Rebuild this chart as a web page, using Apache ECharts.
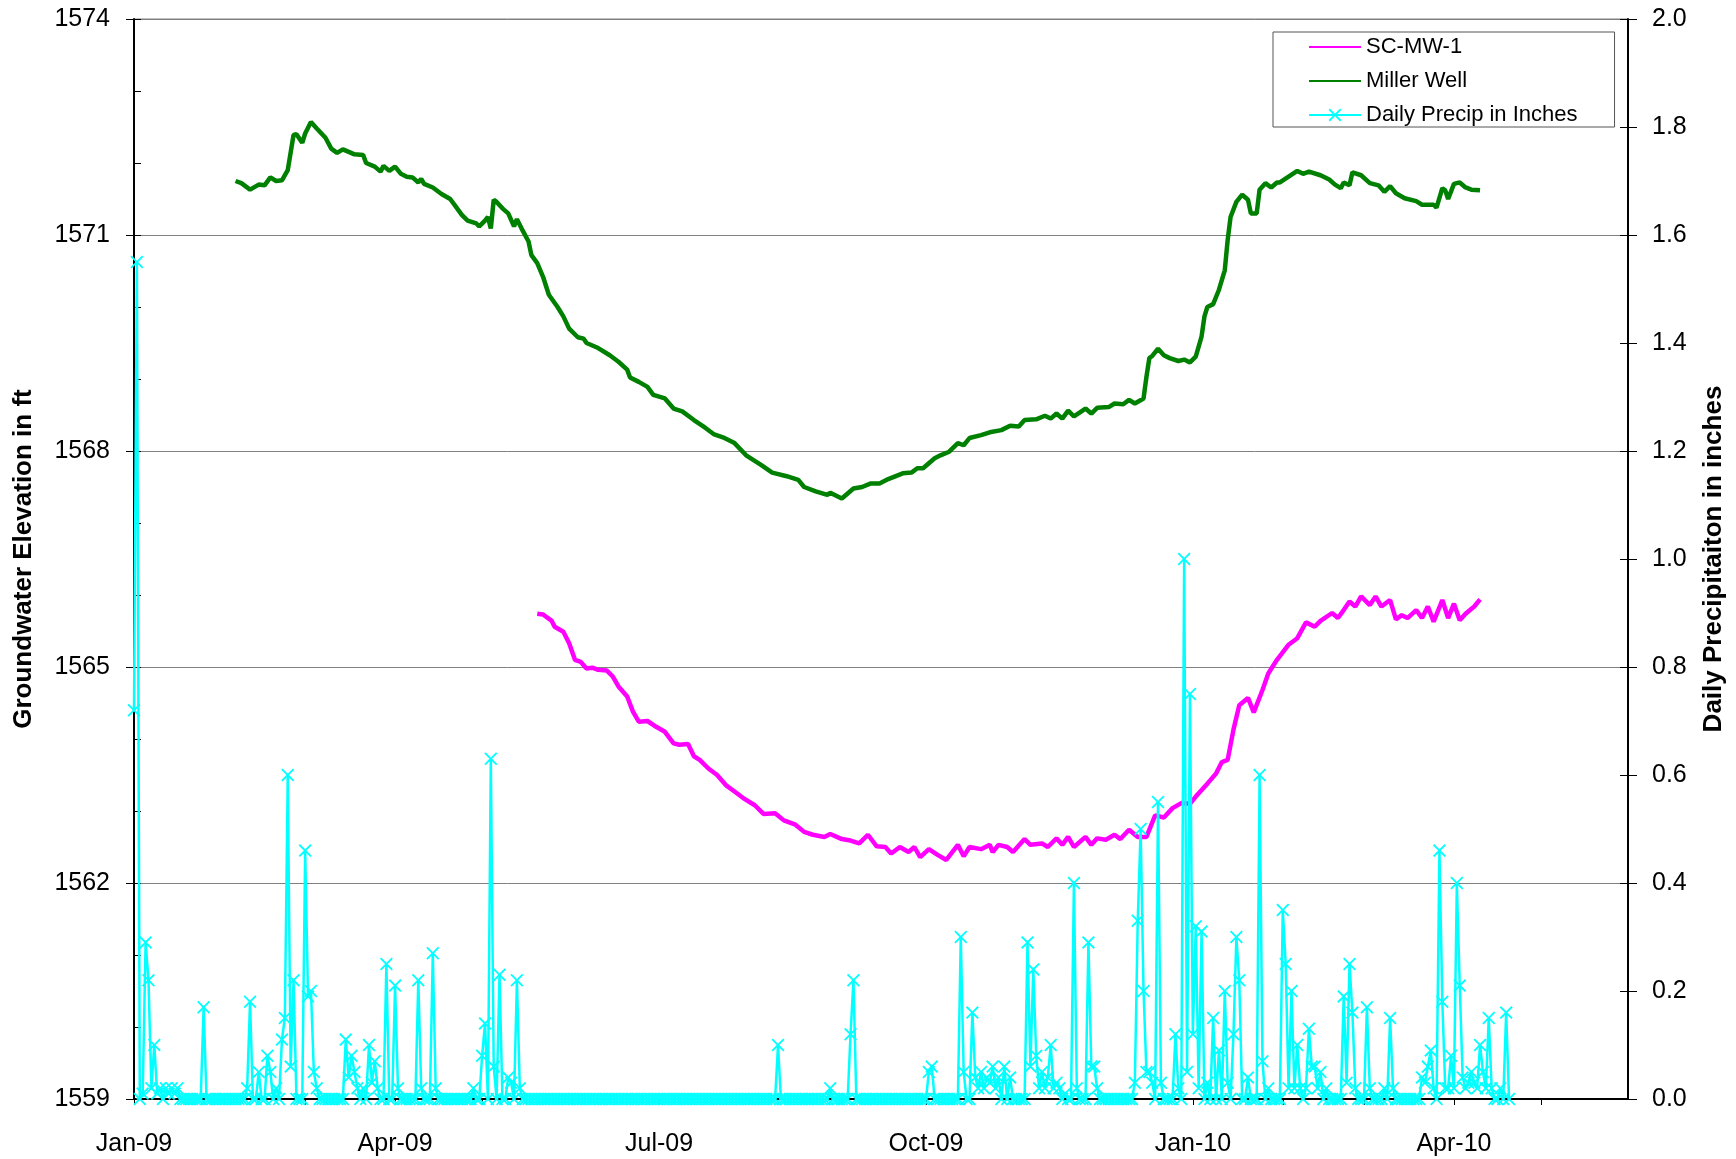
<!DOCTYPE html>
<html>
<head>
<meta charset="utf-8">
<script src="https://cdn.jsdelivr.net/npm/echarts@6/dist/echarts.min.js"></script>
<style>
  html, body { margin: 0; padding: 0; background: #fff; }
  #chart { width: 1736px; height: 1159px; }
</style>
</head>
<body>
<div id="chart"></div>
<script>
// groundwater levels vs daily precipitation
var chart = echarts.init(document.getElementById('chart'));

var FONT = 'Liberation Sans, Arial, sans-serif';

// x axis labels (quarters)
var quarterTicks = ['2009-01-01', '2009-04-01', '2009-07-01', '2009-10-01', '2010-01-01', '2010-04-01'];
var quarterLabels = ['Jan-09', 'Apr-09', 'Jul-09', 'Oct-09', 'Jan-10', 'Apr-10'];

// SC-MW-1 (ft)
var scMw1 = [
    ['2009-05-20', 1565.74], ['2009-05-22', 1565.73], ['2009-05-25', 1565.64], ['2009-05-26', 1565.56],
    ['2009-05-29', 1565.49], ['2009-05-31', 1565.33], ['2009-06-02', 1565.10], ['2009-06-04', 1565.07],
    ['2009-06-06', 1564.98], ['2009-06-08', 1564.99], ['2009-06-10', 1564.96], ['2009-06-13', 1564.95],
    ['2009-06-15', 1564.87], ['2009-06-17', 1564.73], ['2009-06-20', 1564.59], ['2009-06-22', 1564.38],
    ['2009-06-24', 1564.24], ['2009-06-27', 1564.25], ['2009-06-30', 1564.17], ['2009-07-03', 1564.10],
    ['2009-07-06', 1563.94], ['2009-07-08', 1563.92], ['2009-07-11', 1563.93], ['2009-07-13', 1563.76],
    ['2009-07-15', 1563.71], ['2009-07-18', 1563.59], ['2009-07-21', 1563.50], ['2009-07-24', 1563.36],
    ['2009-07-27', 1563.27], ['2009-07-30', 1563.18], ['2009-08-03', 1563.08], ['2009-08-06', 1562.96],
    ['2009-08-10', 1562.97], ['2009-08-13', 1562.87], ['2009-08-17', 1562.81], ['2009-08-20', 1562.71],
    ['2009-08-23', 1562.67], ['2009-08-27', 1562.64], ['2009-08-29', 1562.68], ['2009-09-02', 1562.61],
    ['2009-09-05', 1562.59], ['2009-09-08', 1562.55], ['2009-09-11', 1562.67], ['2009-09-14', 1562.51],
    ['2009-09-17', 1562.50], ['2009-09-19', 1562.41], ['2009-09-22', 1562.50], ['2009-09-25', 1562.43],
    ['2009-09-27', 1562.50], ['2009-09-29', 1562.36], ['2009-10-02', 1562.47], ['2009-10-05', 1562.39],
    ['2009-10-08', 1562.32], ['2009-10-12', 1562.53], ['2009-10-14', 1562.37], ['2009-10-16', 1562.50],
    ['2009-10-20', 1562.47], ['2009-10-23', 1562.53], ['2009-10-24', 1562.43], ['2009-10-26', 1562.53],
    ['2009-10-29', 1562.50], ['2009-10-31', 1562.43], ['2009-11-04', 1562.61], ['2009-11-06', 1562.53],
    ['2009-11-10', 1562.55], ['2009-11-12', 1562.50], ['2009-11-15', 1562.62], ['2009-11-17', 1562.53],
    ['2009-11-19', 1562.64], ['2009-11-21', 1562.50], ['2009-11-25', 1562.64], ['2009-11-27', 1562.53],
    ['2009-11-29', 1562.62], ['2009-12-02', 1562.60], ['2009-12-05', 1562.67], ['2009-12-07', 1562.61],
    ['2009-12-10', 1562.74], ['2009-12-13', 1562.64], ['2009-12-16', 1562.64], ['2009-12-19', 1562.94],
    ['2009-12-22', 1562.91], ['2009-12-25', 1563.04], ['2009-12-28', 1563.11], ['2009-12-31', 1563.10],
    ['2010-01-02', 1563.20], ['2010-01-06', 1563.38], ['2010-01-09', 1563.52], ['2010-01-11', 1563.68],
    ['2010-01-13', 1563.71], ['2010-01-15', 1564.13], ['2010-01-17', 1564.47], ['2010-01-20', 1564.57],
    ['2010-01-22', 1564.37], ['2010-01-25', 1564.68], ['2010-01-27', 1564.91], ['2010-01-30', 1565.10],
    ['2010-02-03', 1565.31], ['2010-02-06', 1565.40], ['2010-02-09', 1565.62], ['2010-02-12', 1565.56],
    ['2010-02-14', 1565.64], ['2010-02-18', 1565.75], ['2010-02-20', 1565.68], ['2010-02-22', 1565.79],
    ['2010-02-24', 1565.91], ['2010-02-26', 1565.84], ['2010-02-28', 1565.98], ['2010-03-03', 1565.86],
    ['2010-03-05', 1565.98], ['2010-03-07', 1565.84], ['2010-03-10', 1565.93], ['2010-03-12', 1565.66],
    ['2010-03-14', 1565.72], ['2010-03-16', 1565.68], ['2010-03-19', 1565.79], ['2010-03-21', 1565.68],
    ['2010-03-23', 1565.84], ['2010-03-25', 1565.63], ['2010-03-28', 1565.93], ['2010-03-30', 1565.68],
    ['2010-04-01', 1565.88], ['2010-04-03', 1565.65], ['2010-04-05', 1565.74], ['2010-04-08', 1565.84],
    ['2010-04-10', 1565.94]
];

// Miller Well (ft)
var millerWell = [
    ['2009-02-05', 1571.75], ['2009-02-07', 1571.72], ['2009-02-10', 1571.63], ['2009-02-13', 1571.70],
    ['2009-02-15', 1571.69], ['2009-02-17', 1571.80], ['2009-02-19', 1571.75], ['2009-02-21', 1571.76],
    ['2009-02-23', 1571.90], ['2009-02-25', 1572.39], ['2009-02-26', 1572.40], ['2009-02-28', 1572.28],
    ['2009-03-01', 1572.41], ['2009-03-03', 1572.57], ['2009-03-05', 1572.48], ['2009-03-08', 1572.35],
    ['2009-03-10', 1572.20], ['2009-03-12', 1572.14], ['2009-03-14', 1572.19], ['2009-03-18', 1572.12],
    ['2009-03-21', 1572.11], ['2009-03-22', 1572.00], ['2009-03-25', 1571.95], ['2009-03-27', 1571.88],
    ['2009-03-28', 1571.96], ['2009-03-30', 1571.89], ['2009-04-01', 1571.95], ['2009-04-03', 1571.85],
    ['2009-04-05', 1571.81], ['2009-04-07', 1571.80], ['2009-04-09', 1571.73], ['2009-04-10', 1571.78],
    ['2009-04-11', 1571.71], ['2009-04-14', 1571.66], ['2009-04-17', 1571.57], ['2009-04-20', 1571.50],
    ['2009-04-22', 1571.39], ['2009-04-24', 1571.28], ['2009-04-26', 1571.20], ['2009-04-29', 1571.16],
    ['2009-04-30', 1571.12], ['2009-05-02', 1571.20], ['2009-05-03', 1571.25], ['2009-05-04', 1571.09],
    ['2009-05-05', 1571.49], ['2009-05-06', 1571.46], ['2009-05-08', 1571.37], ['2009-05-10', 1571.30],
    ['2009-05-12', 1571.12], ['2009-05-13', 1571.22], ['2009-05-15', 1571.06], ['2009-05-17', 1570.91],
    ['2009-05-18', 1570.72], ['2009-05-20', 1570.61], ['2009-05-22', 1570.42], ['2009-05-24', 1570.17],
    ['2009-05-27', 1570.00], ['2009-05-29', 1569.87], ['2009-05-31', 1569.70], ['2009-06-03', 1569.58],
    ['2009-06-05', 1569.56], ['2009-06-06', 1569.50], ['2009-06-10', 1569.43], ['2009-06-14', 1569.33],
    ['2009-06-17', 1569.24], ['2009-06-20', 1569.13], ['2009-06-21', 1569.02], ['2009-06-24', 1568.96],
    ['2009-06-27', 1568.89], ['2009-06-29', 1568.78], ['2009-07-03', 1568.73], ['2009-07-06', 1568.59],
    ['2009-07-09', 1568.55], ['2009-07-13', 1568.43], ['2009-07-17', 1568.32], ['2009-07-20', 1568.23],
    ['2009-07-23', 1568.19], ['2009-07-27', 1568.11], ['2009-07-31', 1567.94], ['2009-08-05', 1567.81],
    ['2009-08-09', 1567.70], ['2009-08-14', 1567.65], ['2009-08-18', 1567.60], ['2009-08-20', 1567.50],
    ['2009-08-24', 1567.44], ['2009-08-28', 1567.39], ['2009-08-29', 1567.42], ['2009-09-02', 1567.34],
    ['2009-09-06', 1567.48], ['2009-09-09', 1567.50], ['2009-09-12', 1567.55], ['2009-09-15', 1567.55],
    ['2009-09-18', 1567.61], ['2009-09-23', 1567.69], ['2009-09-26', 1567.70], ['2009-09-28', 1567.76],
    ['2009-09-30', 1567.76], ['2009-10-04', 1567.90], ['2009-10-06', 1567.94], ['2009-10-09', 1567.99],
    ['2009-10-12', 1568.11], ['2009-10-14', 1568.08], ['2009-10-16', 1568.18], ['2009-10-20', 1568.22],
    ['2009-10-23', 1568.26], ['2009-10-27', 1568.29], ['2009-10-30', 1568.35], ['2009-11-02', 1568.34],
    ['2009-11-04', 1568.43], ['2009-11-08', 1568.44], ['2009-11-11', 1568.49], ['2009-11-13', 1568.45],
    ['2009-11-15', 1568.52], ['2009-11-17', 1568.45], ['2009-11-19', 1568.56], ['2009-11-21', 1568.48],
    ['2009-11-25', 1568.59], ['2009-11-27', 1568.52], ['2009-11-29', 1568.60], ['2009-12-03', 1568.61],
    ['2009-12-05', 1568.66], ['2009-12-08', 1568.65], ['2009-12-10', 1568.71], ['2009-12-12', 1568.66],
    ['2009-12-15', 1568.73], ['2009-12-16', 1569.03], ['2009-12-17', 1569.29], ['2009-12-18', 1569.32],
    ['2009-12-20', 1569.42], ['2009-12-22', 1569.33], ['2009-12-24', 1569.29], ['2009-12-27', 1569.25],
    ['2009-12-29', 1569.27], ['2009-12-31', 1569.23], ['2010-01-02', 1569.31], ['2010-01-04', 1569.59],
    ['2010-01-05', 1569.87], ['2010-01-06', 1570.00], ['2010-01-08', 1570.04], ['2010-01-10', 1570.24],
    ['2010-01-12', 1570.51], ['2010-01-13', 1570.93], ['2010-01-14', 1571.25], ['2010-01-16', 1571.46],
    ['2010-01-18', 1571.56], ['2010-01-20', 1571.49], ['2010-01-21', 1571.30], ['2010-01-23', 1571.30],
    ['2010-01-24', 1571.63], ['2010-01-26', 1571.72], ['2010-01-28', 1571.66], ['2010-01-30', 1571.73],
    ['2010-01-31', 1571.73], ['2010-02-03', 1571.81], ['2010-02-06', 1571.89], ['2010-02-08', 1571.85],
    ['2010-02-10', 1571.88], ['2010-02-14', 1571.83], ['2010-02-17', 1571.77], ['2010-02-19', 1571.70],
    ['2010-02-21', 1571.65], ['2010-02-22', 1571.73], ['2010-02-24', 1571.69], ['2010-02-25', 1571.87],
    ['2010-02-28', 1571.83], ['2010-03-03', 1571.72], ['2010-03-06', 1571.69], ['2010-03-08', 1571.60],
    ['2010-03-10', 1571.68], ['2010-03-12', 1571.58], ['2010-03-15', 1571.51], ['2010-03-19', 1571.47],
    ['2010-03-21', 1571.42], ['2010-03-25', 1571.42], ['2010-03-26', 1571.38], ['2010-03-28', 1571.65],
    ['2010-03-29', 1571.62], ['2010-03-30', 1571.50], ['2010-04-01', 1571.71], ['2010-04-03', 1571.73],
    ['2010-04-05', 1571.66], ['2010-04-07', 1571.63], ['2010-04-10', 1571.62]
];

// daily precip (inches), one row per month, first day 2009-01-01
var precipStart = '2009-01-01';
var precipDaily = [
    // 2009 Jan
    0.72, 1.55, 0, 0.01, 0.29, 0.22, 0.02, 0.10, 0.01, 0.02, 0, 0.02, 0.01, 0.02, 0.01, 0.02, 0, 0, 0, 0, 0, 0, 0, 0, 0.17, 0, 0, 0, 0, 0, 0,
    // Feb
    0, 0, 0, 0, 0, 0, 0, 0, 0.02, 0.18, 0, 0, 0.05, 0, 0, 0.08, 0.05, 0, 0.02, 0, 0.11, 0.15, 0.60, 0.06, 0.22, 0, 0, 0,
    // Mar
    0.46, 0.19, 0.20, 0.05, 0.02, 0, 0, 0, 0, 0, 0, 0, 0, 0, 0.11, 0.04, 0.08, 0.05, 0.02, 0, 0.02, 0, 0.10, 0.03, 0.07, 0.02, 0, 0, 0.25, 0, 0,
    // Apr
    0.21, 0.02, 0, 0, 0, 0, 0, 0, 0.22, 0.02, 0, 0, 0, 0.27, 0.02, 0, 0, 0, 0, 0, 0, 0, 0, 0, 0, 0, 0, 0.02, 0, 0,
    // May
    0.08, 0.14, 0, 0.63, 0.06, 0, 0.23, 0, 0, 0.04, 0.03, 0, 0.22, 0.02, 0, 0, 0, 0, 0, 0, 0, 0, 0, 0, 0, 0, 0, 0, 0, 0, 0,
    // Jun
    0, 0, 0, 0, 0, 0, 0, 0, 0, 0, 0, 0, 0, 0, 0, 0, 0, 0, 0, 0, 0, 0, 0, 0, 0, 0, 0, 0, 0, 0,
    // Jul
    0, 0, 0, 0, 0, 0, 0, 0, 0, 0, 0, 0, 0, 0, 0, 0, 0, 0, 0, 0, 0, 0, 0, 0, 0, 0, 0, 0, 0, 0, 0,
    // Aug
    0, 0, 0, 0, 0, 0, 0, 0, 0, 0, 0.10, 0, 0, 0, 0, 0, 0, 0, 0, 0, 0, 0, 0, 0, 0, 0, 0, 0, 0.02, 0, 0,
    // Sep
    0, 0, 0, 0, 0.12, 0.22, 0, 0, 0, 0, 0, 0, 0, 0, 0, 0, 0, 0, 0, 0, 0, 0, 0, 0, 0, 0, 0, 0, 0, 0,
    // Oct
    0, 0.05, 0.06, 0, 0, 0, 0, 0, 0, 0, 0, 0, 0.30, 0.05, 0, 0, 0.16, 0.04, 0.02, 0.05, 0.02, 0.04, 0.03, 0.06, 0.02, 0.04, 0, 0.06, 0, 0.04, 0,
    // Nov
    0, 0, 0, 0, 0.29, 0.06, 0.24, 0.08, 0.02, 0.05, 0.02, 0.04, 0.10, 0.02, 0.03, 0.02, 0, 0.01, 0, 0, 0.40, 0.02, 0, 0, 0, 0.29, 0.06, 0.06, 0.02, 0,
    // Dec
    0, 0, 0, 0, 0, 0, 0, 0, 0, 0, 0, 0.03, 0.33, 0.50, 0.20, 0.05, 0.05, 0.03, 0, 0.55, 0.03, 0, 0, 0, 0, 0.12, 0.02, 0, 1.00, 0.05, 0.75,
    // 2010 Jan
    0.12, 0.32, 0.02, 0.31, 0, 0.03, 0, 0.15, 0, 0.09, 0, 0.20, 0.03, 0, 0.12, 0.30, 0.22, 0, 0, 0.04, 0, 0, 0, 0.60, 0.07, 0, 0.02, 0, 0, 0, 0,
    // Feb
    0.35, 0.25, 0.02, 0.20, 0.02, 0.10, 0.02, 0, 0.02, 0.13, 0.06, 0.06, 0.02, 0.05, 0, 0.02, 0, 0, 0, 0, 0, 0.19, 0.03, 0.25, 0.16, 0.02, 0, 0,
    // Mar
    0, 0.17, 0.02, 0, 0, 0, 0, 0.02, 0, 0.15, 0.02, 0, 0, 0, 0, 0, 0, 0, 0, 0, 0.04, 0.03, 0.06, 0.09, 0.02, 0, 0.46, 0.18, 0.02, 0.02, 0.08,
    // Apr (to the 20th)
    0.02, 0.40, 0.21, 0.04, 0.02, 0.03, 0.05, 0.03, 0.02, 0.10, 0.05, 0.02, 0.15, 0.02, 0, 0, 0.02, 0, 0.16, 0
];

function toTime(s) {
    var p = s.split('-');
    return new Date(+p[0], +p[1] - 1, +p[2]).getTime();
}

var quarterTimes = quarterTicks.map(toTime);

// month ticks along the date axis
var monthTicks = [];
for (var m = 0; m <= 16; m++) {
    monthTicks.push(new Date(2009, m, 1).getTime());
}

var p0 = precipStart.split('-');
var precipData = precipDaily.map(function (v, i) {
    return [new Date(+p0[0], +p0[1] - 1, +p0[2] + i).getTime(), v];
});

var crossMark = 'path://M0,1 L1,0 L5,4 L9,0 L10,1 L6,5 L10,9 L9,10 L5,6 L1,10 L0,9 L4,5 Z';

chart.setOption({
    animation: false,
    backgroundColor: '#fff',
    textStyle: { fontFamily: FONT, color: '#000' },
    grid: {
        left: 134, right: 108, top: 19, bottom: 60,
        containLabel: false,
        outerBoundsMode: 'none',
        show: true, borderColor: '#808080', borderWidth: 1
    },
    legend: {
        orient: 'vertical',
        left: 1273, top: 32,
        padding: [4, 37, 1, 35],
        itemWidth: 52, itemHeight: 16, itemGap: 12,
        backgroundColor: '#fff',
        borderColor: '#555', borderWidth: 1,
        textStyle: { fontFamily: FONT, fontSize: 22, color: '#000', lineHeight: 20 },
        data: [
            { name: 'SC-MW-1', itemStyle: { opacity: 0 } },
            { name: 'Miller Well', itemStyle: { opacity: 0 } },
            { name: 'Daily Precip in Inches' }
        ]
    },
    xAxis: [{
        // date axis, values are timestamps
        type: 'value',
        min: toTime('2009-01-01'),
        max: toTime('2010-05-31'),
        axisLine: { onZero: false, lineStyle: { color: '#000', width: 2 } },
        axisTick: { show: true, customValues: monthTicks, length: 6, lineStyle: { color: '#000' } },
        splitLine: { show: false },
        axisLabel: {
            customValues: quarterTimes,
            margin: 33,
            fontSize: 25,
            fontFamily: FONT,
            color: '#000',
            formatter: function (val) {
                var k = quarterTimes.indexOf(val);
                return k >= 0 ? quarterLabels[k] : '';
            }
        }
    }],
    yAxis: [{
        type: 'value',
        position: 'left',
        min: 1559, max: 1574, interval: 3,
        name: 'Groundwater Elevation in ft',
        nameLocation: 'middle',
        nameGap: 97,
        nameRotate: 90,
        nameTextStyle: { fontFamily: FONT, fontSize: 26, fontWeight: 'bold', color: '#000' },
        axisLine: { show: true, lineStyle: { color: '#000', width: 2 } },
        axisTick: { show: true, length: 8, lineStyle: { color: '#000' } },
        splitLine: { show: true, lineStyle: { color: '#808080', width: 1 } },
        axisLabel: {
            fontSize: 25, fontFamily: FONT, color: '#000', margin: 24,
            formatter: function (v) { return String(v); }
        }
    }, {
        type: 'value',
        position: 'right',
        min: 0, max: 2, interval: 0.2,
        name: 'Daily Precipitaiton in inches',
        nameLocation: 'middle',
        nameGap: 73,
        nameRotate: 90,
        nameTextStyle: { fontFamily: FONT, fontSize: 26, fontWeight: 'bold', color: '#000' },
        axisLine: { show: true, lineStyle: { color: '#000', width: 2 } },
        axisTick: { show: true, length: 9, lineStyle: { color: '#000' } },
        splitLine: { show: false },
        axisLabel: {
            fontSize: 25, fontFamily: FONT, color: '#000', margin: 24,
            formatter: function (v) { return v.toFixed(1); }
        }
    }, {
        // inward minor ticks on the left
        type: 'value', position: 'left',
        min: 1559, max: 1574, interval: 1,
        axisLine: { show: false },
        axisTick: { show: true, inside: true, length: 7, lineStyle: { color: '#000' } },
        axisLabel: { show: false },
        splitLine: { show: false }
    }, {
        // inward ticks on the right
        type: 'value', position: 'right',
        min: 0, max: 2, interval: 0.2,
        axisLine: { show: false },
        axisTick: { show: true, inside: true, length: 8, lineStyle: { color: '#000' } },
        axisLabel: { show: false },
        splitLine: { show: false }
    }],
    series: [{
        name: 'SC-MW-1',
        type: 'line',
        yAxisIndex: 0,
        data: scMw1.map(function (d) { return [toTime(d[0]), d[1]]; }),
        symbol: 'none',
        color: '#FF00FF',
        lineStyle: { color: '#FF00FF', width: 4.5 }
    }, {
        name: 'Miller Well',
        type: 'line',
        yAxisIndex: 0,
        data: millerWell.map(function (d) { return [toTime(d[0]), d[1]]; }),
        symbol: 'none',
        color: '#008000',
        lineStyle: { color: '#008000', width: 4.5 }
    }, {
        name: 'Daily Precip in Inches',
        type: 'line',
        yAxisIndex: 1,
        data: precipData,
        symbol: crossMark,
        symbolSize: 13,
        showSymbol: true,
        showAllSymbol: true,
        color: '#00FFFF',
        itemStyle: { color: '#00FFFF' },
        lineStyle: { color: '#00FFFF', width: 2.5 }
    }]
});
</script>
</body>
</html>
